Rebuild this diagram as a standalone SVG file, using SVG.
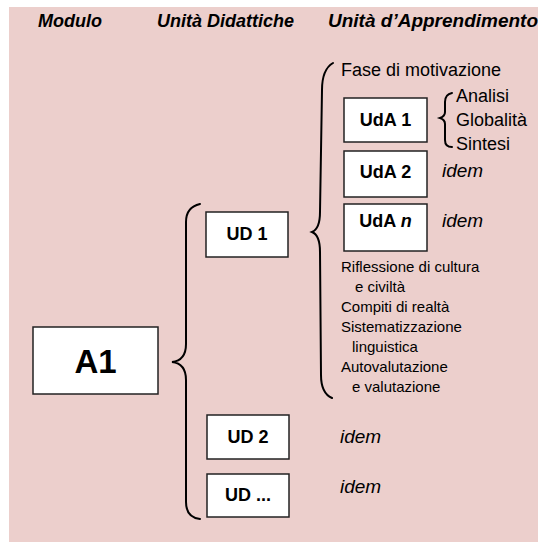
<svg xmlns="http://www.w3.org/2000/svg" width="538" height="542" viewBox="0 0 538 542">
<style>
.hdr{font-family:"Liberation Sans",Arial,sans-serif;font-weight:bold;font-style:italic;font-size:18px;fill:#000}
.box{fill:#fff;stroke:#222;stroke-width:1.5}
.lbl{font-family:"Liberation Sans",Arial,sans-serif;font-weight:bold;font-size:18px;fill:#000;text-anchor:middle}
.txt{font-family:"Liberation Sans",Arial,sans-serif;font-size:18px;fill:#000}
.sm{font-family:"Liberation Sans",Arial,sans-serif;font-size:15px;fill:#000}
.it{font-family:"Liberation Sans",Arial,sans-serif;font-style:italic;font-size:19px;fill:#000}
.brace{fill:none;stroke:#000;stroke-width:2;stroke-linecap:round}
</style>
<rect x="0" y="0" width="538" height="542" fill="#fff"/>
<rect x="9" y="7" width="529" height="535" fill="#ECCFCC"/>
<g id="headers">
<text class="hdr" x="38" y="27">Modulo</text>
<text class="hdr" x="157" y="27">Unità Didattiche</text>
<text class="hdr" x="328" y="27" style="font-size:19px">Unità d’Apprendimento</text>
</g>
<g id="connectors">
<path class="brace" d="M200,204 C191,206 186,212 186,222 L186,344 C186,355 181,361 172,362 C181,363 186,369 186,380 L186,502 C186,512 191,518 200,519"/>
<path class="brace" d="M333,63 C326,67 322,75 322,90 L320,212 C320,224 317,230 312,232 C317,234 320,240 320,252 L321,375 C321,388 325,395 332,398"/>
<path class="brace" d="M452,93 C447,94 445,97 445,102 L445,112 C445,115 443,117 440,118 C443,119 445,121 445,124 L445,140 C445,145 447,147 452,147"/>
</g>
<g id="A1">
<rect class="box" x="33" y="327" width="125" height="67"/>
<text class="lbl" x="95.5" y="373" style="font-size:33px">A1</text>
</g>
<g id="UD1">
<rect class="box" x="206" y="212" width="82" height="45"/>
<text class="lbl" x="247" y="240">UD 1</text>
</g>
<g id="UD2">
<rect class="box" x="207" y="415" width="82" height="44"/>
<text class="lbl" x="248" y="443">UD 2</text>
<text class="it" x="340" y="443">idem</text>
</g>
<g id="UDdots">
<rect class="box" x="207" y="474" width="82" height="43"/>
<text class="lbl" x="248" y="501">UD ...</text>
<text class="it" x="340" y="493">idem</text>
</g>
<g id="fase">
<text class="txt" x="341" y="76">Fase di motivazione</text>
</g>
<g id="UdA1">
<rect class="box" x="344" y="98" width="83" height="44"/>
<text class="lbl" x="385.5" y="126">UdA 1</text>
<text class="txt" x="456" y="102">Analisi</text>
<text class="txt" x="456" y="126">Globalità</text>
<text class="txt" x="456" y="150">Sintesi</text>
</g>
<g id="UdA2">
<rect class="box" x="344" y="151" width="83" height="46"/>
<text class="lbl" x="385.5" y="178">UdA 2</text>
<text class="it" x="442" y="177">idem</text>
</g>
<g id="UdAn">
<rect class="box" x="344" y="204" width="83" height="47"/>
<text class="lbl" x="385.5" y="227">UdA <tspan style="font-style:italic">n</tspan></text>
<text class="it" x="442" y="227">idem</text>
</g>
<g id="others">
<text class="sm" x="341" y="272">Riflessione di cultura</text>
<text class="sm" x="355" y="292">e civiltà</text>
<text class="sm" x="341" y="312">Compiti di realtà</text>
<text class="sm" x="341" y="332">Sistematizzazione</text>
<text class="sm" x="352" y="352">linguistica</text>
<text class="sm" x="341" y="372">Autovalutazione</text>
<text class="sm" x="352" y="392">e valutazione</text>
</g>
</svg>
